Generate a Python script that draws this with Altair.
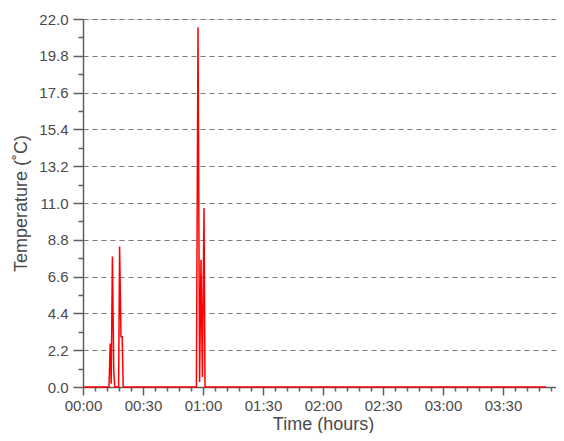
import altair as alt
import pandas as pd

# Time in minutes since start, temperature in degrees C
minutes = [0, 13.0, 13.6, 14.1, 14.7, 15.4, 15.9, 17.8, 18.3, 19.0, 19.6, 20.1,
           56.7, 57.5, 58.3, 59.0, 59.7, 60.5, 61.0, 231.5]
temps = [0, 0, 2.6, 0.2, 7.8, 0.9, 0.0, 0.0, 8.4, 3.0, 3.0, 0.0,
         0.0, 21.5, 0.3, 7.6, 0.6, 10.7, 0.0, 0.0]

x_ticks = list(range(0, 241, 6))
y_ticks = [round(i * 1.1, 1) for i in range(21)]

df = pd.DataFrame({"t": minutes, "temp": temps})

FONT = "Liberation Sans"
AXIS_COLOR = "#5f5f5f"
LABEL_COLOR = "#4a4a4a"

x_major = "datum.value % 30 == 0"
y_major = "round(datum.value * 10) % 22 == 0"

x_axis = alt.Axis(
    values=x_ticks,
    labelExpr=f"({x_major}) && datum.value < 240 ? format(floor(datum.value / 60), '02d') + ':' + format(datum.value % 60, '02d') : ''",
    tickSize={"condition": {"test": x_major, "value": 8}, "value": 4},
    labelPadding=3,
    labelFlush=False,
    labelOverlap=False,
    labelFontSize=15,
    labelFont=FONT,
    labelColor=LABEL_COLOR,
    title="Time (hours)",
    titleFontSize=18,
    titleFont=FONT,
    titleFontWeight="normal",
    titleColor=LABEL_COLOR,
    titlePadding=2,
    grid=False,
    domainColor=AXIS_COLOR,
    domainWidth=1.5,
    tickColor=AXIS_COLOR,
    tickWidth=1.5,
)

y_axis = alt.Axis(
    values=y_ticks,
    labelExpr=f"{y_major} ? format(datum.value, '.1f') : ''",
    tickSize={"condition": {"test": y_major, "value": 10}, "value": 5},
    labelPadding=5,
    labelOverlap=False,
    labelFontSize=15,
    labelFont=FONT,
    labelColor=LABEL_COLOR,
    title="Temperature (˚C)",
    titleFontSize=18,
    titleFont=FONT,
    titleFontWeight="normal",
    titleColor=LABEL_COLOR,
    titlePadding=8,
    grid=True,
    gridColor="#7a7a7a",
    gridDash=[5, 4],
    gridWidth=1,
    gridOpacity={"condition": {"test": y_major, "value": 1}, "value": 0},
    domainColor=AXIS_COLOR,
    domainWidth=1.5,
    tickColor=AXIS_COLOR,
    tickWidth=1.5,
)

chart = (
    alt.Chart(df)
    .mark_line(color="#ff0000", strokeWidth=1.5)
    .encode(
        x=alt.X("t:Q", scale=alt.Scale(domain=[0, 240], range=[0, 480], nice=False, zero=True), axis=x_axis),
        y=alt.Y("temp:Q", scale=alt.Scale(domain=[0, 22], nice=False), axis=y_axis),
    )
    .properties(
        width=473,
        height=368,
        autosize=alt.AutoSizeParams(type="none"),
        padding={"left": 75, "top": 11, "right": 0, "bottom": 46},
    )
    .configure_view(stroke=None)
    .configure(background="white")
)

chart.save("out.html", embed_options={"renderer": "svg", "actions": False})
